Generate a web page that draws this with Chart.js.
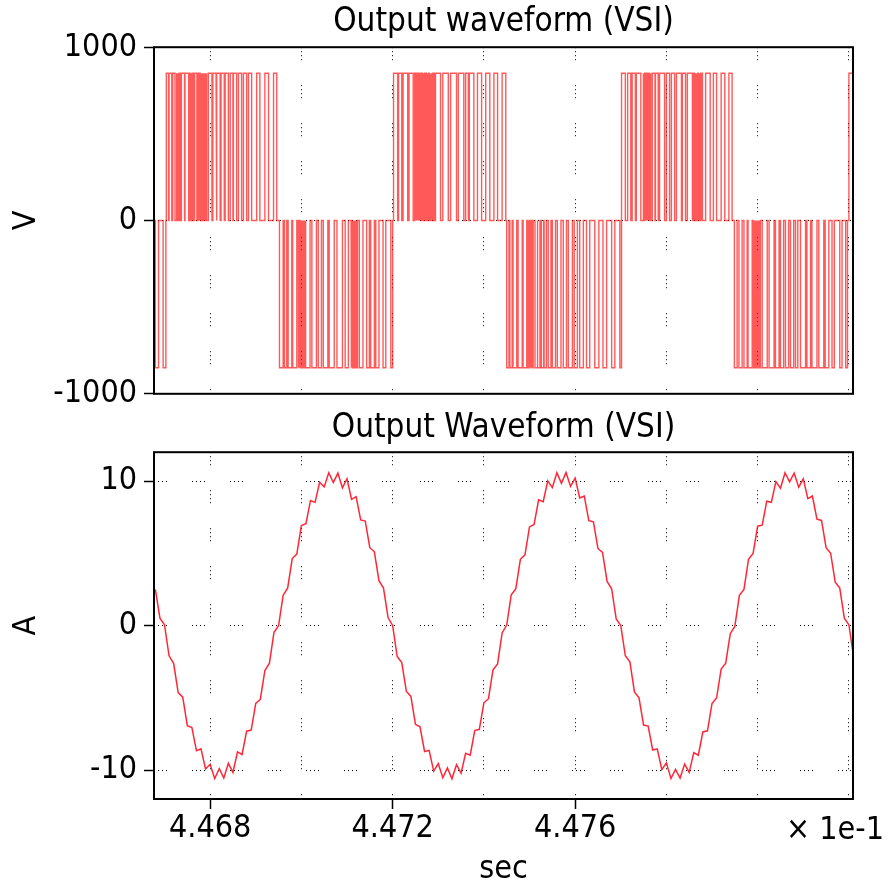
<!DOCTYPE html>
<html><head><meta charset="utf-8">
<script src="https://cdn.jsdelivr.net/npm/chart.js@4.4.1/dist/chart.umd.min.js"></script>
<style>
html,body{margin:0;padding:0;background:#fff;}
body{width:890px;height:889px;position:relative;overflow:hidden;}
canvas{position:absolute;left:0;}
#c1{top:0;} #c2{top:400px;}
#xscale{position:absolute;left:786px;top:809px;font-family:'DejaVu Sans Condensed','DejaVu Sans',sans-serif;font-size:32px;line-height:38.4px;color:#000;white-space:nowrap;}
</style></head><body>
<canvas id="c1" width="890" height="420"></canvas>
<canvas id="c2" width="890" height="489"></canvas>
<div id="xscale">× 1e-1</div>
<script>
// ---------- data ----------
const X_MIN = 4.46677, X_MAX = 4.48209;            // time axis range (x 1e-1 s)
const xGridTicks = [4.468, 4.470, 4.472, 4.474, 4.476, 4.478, 4.480, 4.482];
const xTickLabels = [4.468, 4.472, 4.476];
const vTicks = [-1000, 0, 1000];
const iTicks = [-10, 0, 10];

// PWM output voltage: switching instants in microseconds relative to t = 0.4468 s
const V_DC = 850;
const T_REF = 4.468;      // axis units
const US = 0.00001;       // 1 microsecond in axis units
const edgesH0 = [-120,-113, -103,-97];
const edgesH1 = [-96,-91, -90,-84, -82,-77,
  -74,-73, -72,-71, -70,-69, -68,-66,
  -63,-56, -55,-47,
  -45,-44, -43,-42, -41,-40, -39,-37,
  -34,-29,
  -27,-26, -25,-24, -23,-22, -21,-20, -19,-18, -17,-16, -15,-14, -13,-12, -11,-10, -9,-7,
  -4,4, 6,13, 15,22, 24,31, 33,40, 44,50, 51,58, 62,69, 73,80, 84,91, 102,109, 120,128, 139,146];
const edgesH2 = [152,160, 163,168, 171,179, 181,190,
  193,194, 195,196, 197,198, 199,200, 201,202, 203,204, 205,206, 207,208,
  210,219, 223,233, 237,244, 248,258, 261,272, 278,290, 296,303,
  309,310, 311,312, 313,314, 315,316, 317,318, 319,320, 321,323,
  327,335, 343,349, 352,360, 363,370, 379,385, 396,400];
const edgesH3 = [402,411, 413,420, 423,433, 436,445,
  447,448, 449,450, 451,452, 453,454, 455,456, 457,458, 459,460, 461,462, 463,465,
  467,468, 470,471, 473,474, 476,477, 479,480, 482,483, 485,486, 488,489, 490,491,
  494,505, 510,522, 527,540, 544,556, 560,566, 568,578, 586,595, 604,613, 622,630, 640,648];
const edgesH4 = [650,655, 657,662, 664,672, 675,684, 686,694,
  696,697, 698,699, 700,701, 702,703, 704,705, 706,708,
  712,717, 718,723, 726,731, 732,737, 741,747, 750,757, 761,769, 774,781, 785,794,
  798,805, 810,818, 825,832, 843,852, 861,869, 880,887, 898,901];
const edgesH5 = [902,910, 915,922, 925,932, 934,944,
  949,950, 951,952, 953,954, 955,956, 957,958, 959,960, 961,962, 963,964, 965,966,
  969,975, 976,982, 985,996, 1000,1007, 1011,1018, 1022,1033, 1035,1042, 1046,1057,
  1060,1061, 1063,1064, 1066,1067, 1069,1070, 1072,1073, 1075,1076, 1078,1079,
  1086,1096, 1103,1110, 1120,1128, 1137,1144];
const edgesH6 = [1149,1155, 1159,1166, 1170,1177, 1179,1188,
  1190,1191, 1192,1193, 1194,1195, 1196,1197, 1198,1199, 1200,1201, 1202,1203, 1204,1206,
  1210,1221, 1225,1236, 1239,1247, 1250,1257, 1261,1268, 1272,1279, 1283,1288, 1294,1305,
  1308,1316, 1319,1330, 1334,1345, 1348,1356, 1363,1368, 1380,1385, 1393,1397];
const edgesH7 = [1400,1420];
const halfEdges = [edgesH0, edgesH1, edgesH2, edgesH3, edgesH4, edgesH5, edgesH6, edgesH7];
const halfSign  = [-1, 1, -1, 1, -1, 1, -1, 1];

// Output current (A), sampled every 0.0001 (x 1e-1 s) from 4.4668
const I_START = 4.4668, I_STEP = 0.0001;
const currentA = [
  2.50, 0.51, 0.06, -2.09, -2.61, -4.64, -4.95, -6.93, -7.05, -8.66,
  -8.53, -9.92, -9.60, -10.58, -9.90, -10.55, -9.53, -10.16, -8.74, -8.92,
  -7.31, -7.23, -5.39, -5.11, -3.11, -2.60, -0.46, -0.01, 2.09, 2.61,
  4.64, 4.95, 6.93, 7.05, 8.66, 8.53, 9.92, 9.60, 10.58, 9.90,
  10.55, 9.53, 10.16, 8.74, 8.92, 7.31, 7.23, 5.39, 5.11, 3.11,
  2.60, 0.56, 0.01, -2.14, -2.56, -4.54, -4.90, -6.83, -7.00, -8.71,
  -8.63, -10.07, -9.55, -10.53, -9.85, -10.60, -9.63, -10.21, -8.84, -8.97,
  -7.26, -7.18, -5.34, -5.06, -3.06, -2.65, -0.51, 0.04, 2.14, 2.56,
  4.59, 4.90, 6.83, 7.00, 8.71, 8.58, 10.02, 9.55, 10.58, 9.85,
  10.60, 9.63, 10.21, 8.84, 8.97, 7.26, 7.18, 5.34, 5.06, 3.06,
  2.55, 0.46, 0.01, -2.09, -2.51, -4.59, -5.00, -6.88, -6.95, -8.61,
  -8.53, -9.97, -9.50, -10.58, -9.95, -10.55, -9.58, -10.16, -8.79, -8.97,
  -7.36, -7.28, -5.39, -5.01, -3.01, -2.60, -0.56, -0.06, 2.09, 2.51,
  4.59, 5.00, 6.88, 6.95, 8.61, 8.53, 9.97, 9.50, 10.58, 9.95,
  10.55, 9.58, 10.16, 8.79, 8.97, 7.36, 7.28, 5.39, 5.01, 3.01,
  2.60, 0.51, 0.06, -2.09
];

// ---------- build ----------
function pwmPoints() {
  const pts = [{x: X_MIN, y: 0}];
  halfEdges.forEach((edges, h) => {
    const level = halfSign[h] * V_DC;
    for (let k = 0; k + 1 < edges.length; k += 2) {
      const a = T_REF + edges[k] * US, b = T_REF + edges[k + 1] * US;
      pts.push({x: a, y: 0}, {x: a, y: level}, {x: b, y: level}, {x: b, y: 0});
    }
  });
  return pts;
}
const currentPts = currentA.map((y, i) => ({x: I_START + i * I_STEP, y}));

const FONT = "'DejaVu Sans Condensed', 'DejaVu Sans', sans-serif";
Chart.defaults.font.family = FONT;
Chart.defaults.font.size = 32;
Chart.defaults.color = '#000';
const f = {family: FONT, size: 32, weight: 'normal'};
const fTitle = {family: FONT, size: 33, weight: 'normal'};
const DOTS = [1,3,1,3,1,3,1,25];
const isLabeled = v => xTickLabels.some(t => Math.abs(t - v) < 1e-7);

const frame = {
  id: 'frame',
  afterDraw(chart) {
    const {ctx, chartArea: a} = chart;
    ctx.save();
    ctx.strokeStyle = '#000';
    ctx.lineWidth = 2;
    ctx.strokeRect(a.left, a.top, a.right - a.left, a.bottom - a.top);
    ctx.restore();
  }
};

function xScale(showLabels, height) {
  return {
    type: 'linear', min: X_MIN, max: X_MAX, z: 1,
    afterBuildTicks: s => { s.ticks = xGridTicks.map(v => ({value: v})); },
    afterFit: s => { s.height = height; },
    ticks: {display: showLabels, autoSkip: false, maxRotation: 0, minRotation: 0, padding: 0, font: f, color: '#000',
            callback: v => isLabeled(v) ? v.toFixed(3) : ''},
    grid: {color: '#000', lineWidth: 1, drawTicks: showLabels, tickLength: 10, tickWidth: 1.5,
           tickColor: ctx => (ctx.tick && isLabeled(ctx.tick.value)) ? '#000' : 'rgba(0,0,0,0)'},
    border: {display: false, dash: DOTS},
    title: {display: showLabels, text: 'sec', font: f, color: '#000', padding: {top: 0, bottom: 0}}
  };
}
function yScale(min, max, ticks, label) {
  return {
    type: 'linear', min, max, z: 1,
    afterBuildTicks: s => { s.ticks = ticks.map(v => ({value: v})); },
    afterFit: s => { s.width = 154; },
    ticks: {font: f, color: '#000', padding: 7, callback: v => String(v)},
    grid: {color: '#000', lineWidth: 1, drawTicks: true, tickLength: 10, tickWidth: 1.5, tickColor: '#000'},
    border: {display: false, dash: DOTS},
    title: {display: true, text: label, font: f, color: '#000', padding: {top: 7.4, bottom: 0}}
  };
}
function common(title, pad) {
  return {
    animation: false, responsive: false, devicePixelRatio: 1, events: [],
    layout: {padding: {left: 0, right: 37, top: 0, bottom: 0}},
    plugins: {
      legend: {display: false}, tooltip: {enabled: false},
      title: {display: true, fullSize: false, text: title, color: '#000', font: fTitle, padding: pad}
    },
    elements: {point: {radius: 0}, line: {tension: 0}}
  };
}

new Chart(document.getElementById('c1'), {
  type: 'line',
  data: {datasets: [{data: pwmPoints(), borderColor: 'rgba(255,0,0,0.65)', borderWidth: 1.4, pointRadius: 0, fill: false}]},
  options: Object.assign(common('Output waveform (VSI)', {top: 2.5, bottom: 5.1}), {
    scales: {x: xScale(false, 26), y: yScale(-1000, 1000, vTicks, 'V')}
  }),
  plugins: [frame]
});

new Chart(document.getElementById('c2'), {
  type: 'line',
  data: {datasets: [{data: currentPts, borderColor: 'rgba(255,0,20,0.85)', borderWidth: 1.5, pointRadius: 0, fill: false}]},
  options: Object.assign(common('Output Waveform (VSI)', {top: 8.9, bottom: 3.7}), {
    scales: {x: xScale(true, 90), y: yScale(-12, 12, iTicks, 'A')}
  }),
  plugins: [frame]
});
</script></body></html>
